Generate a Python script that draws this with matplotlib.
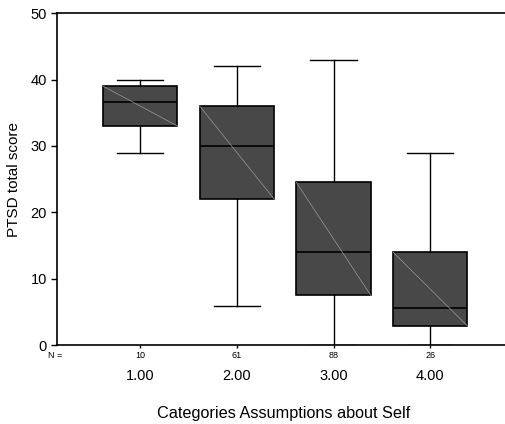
import matplotlib
matplotlib.use("Agg")
import matplotlib.pyplot as plt
from matplotlib.transforms import blended_transform_factory

plt.rcParams['font.family'] = ['Liberation Sans', 'DejaVu Sans']

# data
categories = ['1.00', '2.00', '3.00', '4.00']
counts = [10, 61, 88, 26]
whislo = [28.9, 5.9, 0.0, 0.0]
q1 = [33.0, 22.0, 7.5, 2.9]
med = [36.6, 30.0, 14.0, 5.6]
q3 = [39.0, 36.0, 24.5, 14.0]
whishi = [40.0, 42.0, 43.0, 28.9]

positions = [1, 2, 3, 4]
stats = []
for i in range(len(categories)):
    stats.append(dict(whislo=whislo[i], q1=q1[i], med=med[i], q3=q3[i],
                      whishi=whishi[i], fliers=[]))

fig = plt.figure(figsize=(5.06, 4.24), dpi=100)
ax = fig.add_axes([0.113, 0.186, 0.89, 0.783])

box_w = 0.77
ax.bxp(stats, positions=positions, widths=box_w, patch_artist=True,
       showfliers=False,
       boxprops=dict(facecolor='#484848', edgecolor='black', linewidth=1.2),
       medianprops=dict(color='black', linewidth=1.2),
       whiskerprops=dict(color='black', linewidth=1.0),
       capprops=dict(color='black', linewidth=1.0),
       capwidths=0.48)

# the thin grey diagonal inside each box
for i, p in enumerate(positions):
    ax.plot([p - box_w / 2, p + box_w / 2], [q3[i], q1[i]],
            color='#9a9a9a', linewidth=0.5, zorder=3)

ax.set_xlim(0.14, 4.80)
ax.set_ylim(0, 50)
ax.set_yticks([0, 10, 20, 30, 40, 50])
ax.tick_params(axis='y', labelsize=10.5, length=4, width=1)
ax.set_xticks(positions)
ax.set_xticklabels([str(c) for c in counts], fontsize=6.5)
ax.tick_params(axis='x', length=2.5, width=1, pad=1.5)

for s in ['left', 'bottom', 'top']:
    ax.spines[s].set_linewidth(1.2)
ax.spines['right'].set_visible(False)

trans = blended_transform_factory(ax.transAxes, ax.transData)
ax.annotate('N =', xy=(-0.005, 0), xycoords=trans, xytext=(0, -4),
            textcoords='offset points', fontsize=6.5, ha='center', va='top')
for i, p in enumerate(positions):
    ax.text(p, -3.6, categories[i], fontsize=10.5, ha='center', va='top')

ax.set_ylabel('PTSD total score', fontsize=11)
ax.yaxis.set_label_coords(-0.08, 0.5)
fig.text(0.56, 0.008, 'Categories Assumptions about Self', fontsize=11.7,
         ha='center', va='bottom')

fig.savefig('out.png', dpi=100)
